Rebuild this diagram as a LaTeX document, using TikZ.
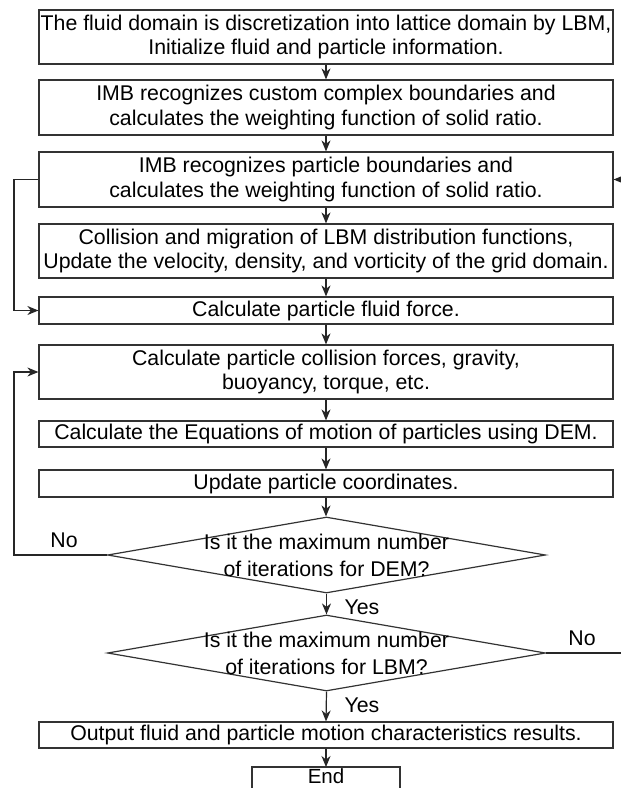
\documentclass[tikz,border=0pt]{standalone}
\usepackage{fontspec}
\setmainfont{Liberation Sans}
\usetikzlibrary{arrows.meta,shapes.geometric}
\begin{document}
\begin{tikzpicture}[x=1pt,y=-1pt,
  box/.style={draw=black!80,line width=1.2pt,minimum width=574pt,inner sep=0pt,align=center,font=\fontsize{21.3}{24.8}\selectfont},
  txt/.style={inner sep=0pt,align=center,font=\fontsize{21.3}{27}\selectfont},
  dec/.style={diamond,draw=black!80,line width=1.2pt,minimum width=438pt,minimum height=76pt,inner sep=0pt,aspect=5.76},
  flow/.style={draw=black!85,line width=1.2pt,-{Stealth[length=11pt,width=9pt,inset=3.5pt]}},
  link/.style={draw=black!80,line width=1.2pt}]
\useasboundingbox (0,0) rectangle (621,788);
\fill[white] (0,0) rectangle (621,788);
\clip (0,0) rectangle (621,788);

\node[box,minimum height=54pt] (b1) at (326,37) {The fluid domain is discretization into lattice domain by LBM,\\Initialize fluid and particle information.};
\node[box,minimum height=55pt] (b2) at (326,107.5) {IMB recognizes custom complex boundaries and\\calculates the weighting function of solid ratio.};
\node[box,minimum height=55pt] (b3) at (326,179.5) {IMB recognizes particle boundaries and\\calculates the weighting function of solid ratio.};
\node[box,minimum height=54pt] (b4) at (326,251) {Collision and migration of LBM distribution functions,\\Update the velocity, density, and vorticity of the grid domain.};
\node[box,minimum height=27pt] (b5) at (326,310.5) {Calculate particle fluid force.};
\node[box,minimum height=54pt] (b6) at (326,372) {Calculate particle collision forces, gravity,\\buoyancy, torque, etc.};
\node[box,minimum height=26pt] (b7) at (326,434) {Calculate the Equations of motion of particles using DEM.};
\node[box,minimum height=27pt] (b8) at (326,483.5) {Update particle coordinates.};
\node[dec] (d1) at (326.5,555) {};
\node[txt] (t1) at (d1.center) {Is it the maximum number\\of iterations for DEM?};
\node[dec] (d2) at (326.5,653) {};
\node[txt] (t2) at (d2.center) {Is it the maximum number\\of iterations for LBM?};
\node[box,minimum height=26pt] (b9) at (326,735) {Output fluid and particle motion characteristics results.};
\node[txt,font=\fontsize{20.5}{24}\selectfont] (end) at (326,776.5) {End};
\coordinate (endtop) at (326,767);
\draw[link] (252,800) -- (252,767) -- (400,767) -- (400,800);

\node[txt] (y1) at (362,607) {Yes};
\node[txt] (y2) at (362,705) {Yes};
\node[txt] (n1) at (64,540) {No};
\node[txt] (n2) at (582,638) {No};

\draw[flow] (b1) -- (b2);
\draw[flow] (b2) -- (b3);
\draw[flow] (b3) -- (b4);
\draw[flow] (b4) -- (b5);
\draw[flow] (b5) -- (b6);
\draw[flow] (b6) -- (b7);
\draw[flow] (b7) -- (b8);
\draw[flow] (b8.south) -- (b8.south |- d1.north);
\draw[flow] (d1.south) -- (d2.north);
\draw[flow] (d2.south) -- (b9.north);
\draw[flow] (b9.south) -- (endtop);

\coordinate (lx) at (14,0);
\coordinate (rx) at (645,0);
\draw[flow] (b3.west) -- (b3.west -| lx) |- (b5.west);
\draw[flow] (d1.west) -- (d1.west -| lx) |- (b6.west);
\draw[flow] (d2.east) -- (d2.east -| rx) |- (b3.east);
\end{tikzpicture}
\end{document}
